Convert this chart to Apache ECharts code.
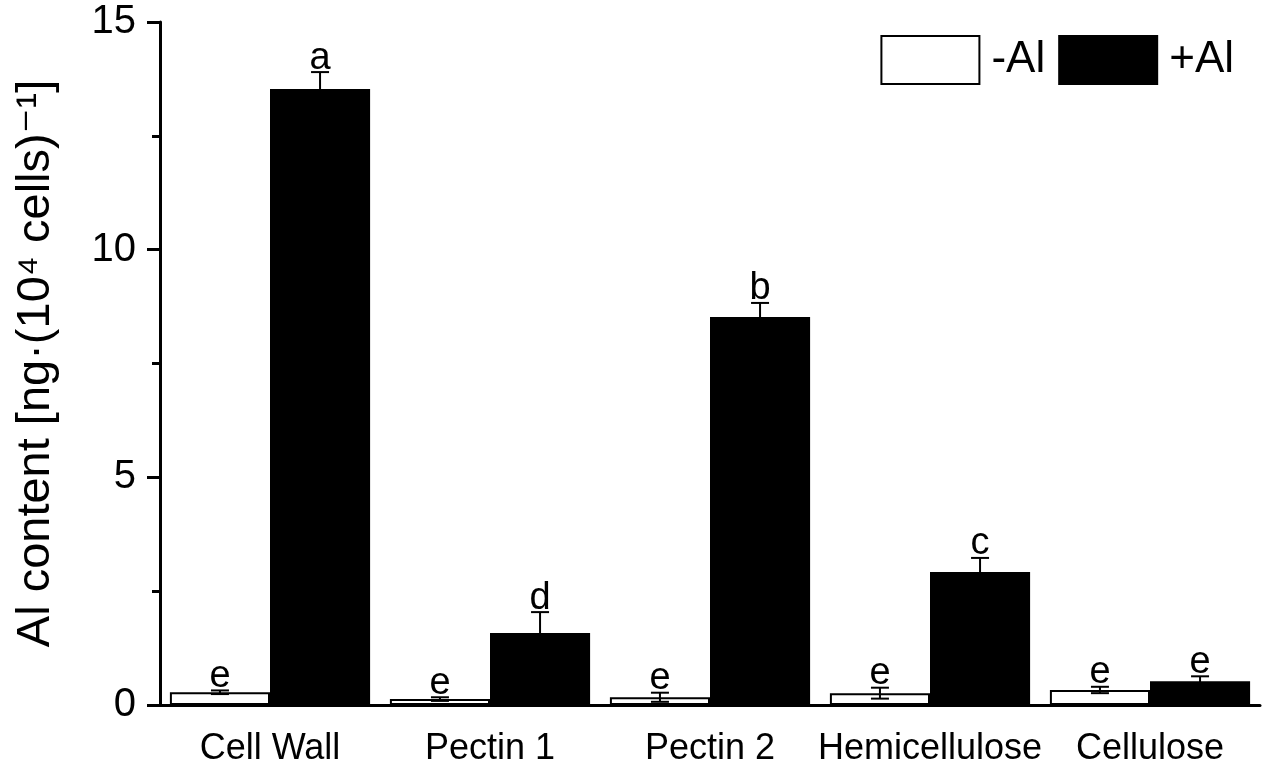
<!DOCTYPE html>
<html>
<head>
<meta charset="utf-8">
<script src="https://cdn.jsdelivr.net/npm/echarts@6/dist/echarts.min.js"></script>
<style>
  html, body { margin: 0; padding: 0; background: #fff; }
  #chart { width: 1267px; height: 768px; }
</style>
</head>
<body>
<div id="chart"></div>
<script>
// 数据
var categories = ['Cell Wall', 'Pectin 1', 'Pectin 2', 'Hemicellulose', 'Cellulose'];
var minusAl = [0.28, 0.13, 0.17, 0.26, 0.33];
var minusAlErr = [0.04, 0.04, 0.10, 0.12, 0.07];
var minusAlLetters = ['e', 'e', 'e', 'e', 'e'];
var plusAl = [13.53, 1.58, 8.52, 2.92, 0.52];
var plusAlErr = [0.37, 0.46, 0.31, 0.31, 0.11];
var plusAlLetters = ['a', 'd', 'b', 'c', 'e'];

var FONT = 'Liberation Sans, Arial, DejaVu Sans, sans-serif';
var CAT_GAP = 0.09; // 与 barCategoryGap 一致

// 误差线 + 字母
function errData(means, errs, side) {
  var out = [];
  for (var i = 0; i < means.length; i++) {
    out.push([i, means[i], errs[i], side]);
  }
  return out;
}

function makeRender(letters) {
  return function (params, api) {
    var idx = api.value(0);
    var mean = api.value(1);
    var err = api.value(2);
    var side = api.value(3);
    var band = api.size([1, 0])[0];
    var barW = band * (1 - CAT_GAP) / 2;
    var base = api.coord([idx, mean]);
    var x = base[0] + (side === 0 ? -barW / 2 : barW / 2);
    var yTop = api.coord([idx, mean + err])[1];
    var yBot = api.coord([idx, Math.max(mean - err, 0)])[1];
    var cap = 9;
    var ls = { stroke: '#000', lineWidth: 2 };
    return {
      type: 'group',
      children: [
        { type: 'line', shape: { x1: x, y1: yTop, x2: x, y2: yBot }, style: ls },
        { type: 'line', shape: { x1: x - cap, y1: yTop, x2: x + cap, y2: yTop }, style: ls },
        { type: 'line', shape: { x1: x - cap, y1: yBot, x2: x + cap, y2: yBot }, style: ls },
        {
          type: 'text',
          style: {
            text: letters[idx], x: x, y: yTop + 5,
            align: 'center', verticalAlign: 'bottom',
            fontSize: 38, fontFamily: FONT, fill: '#000'
          }
        }
      ]
    };
  };
}

var myChart = echarts.init(document.getElementById('chart'));

var option = {
  animation: false,
  backgroundColor: '#fff',
  grid: { left: 160, right: 7, top: 22, bottom: 63 },
  legend: {
    data: ['-Al', '+Al'],
    icon: 'rect',
    right: 33,
    top: 35,
    padding: 0,
    itemWidth: 98,
    itemHeight: 48,
    itemGap: 13,
    textStyle: { fontSize: 44, lineHeight: 48, fontFamily: FONT, color: '#000', padding: [0, 0, 0, 7] }
  },
  xAxis: {
    type: 'category',
    data: categories,
    axisLine: { lineStyle: { color: '#000', width: 3 } },
    axisTick: { alignWithLabel: true, length: 15, lineStyle: { color: '#000', width: 3 } },
    axisLabel: { interval: 0, color: '#000', fontSize: 36, fontFamily: FONT, margin: 26 }
  },
  yAxis: {
    type: 'value',
    min: 0,
    max: 15,
    interval: 5,
    name: 'Al content [ng·(10⁴ cells)⁻¹]',
    nameLocation: 'middle',
    nameGap: 100,
    nameTextStyle: { fontSize: 47, fontFamily: FONT, color: '#000' },
    axisLine: { show: true, lineStyle: { color: '#000', width: 3 } },
    axisTick: { show: true, length: 13, lineStyle: { color: '#000', width: 3 } },
    minorTick: { show: true, splitNumber: 2, length: 8, lineStyle: { color: '#000', width: 3 } },
    splitLine: { show: false },
    axisLabel: { color: '#000', fontSize: 40, fontFamily: FONT, margin: 24 }
  },
  series: [
    {
      name: '-Al',
      type: 'bar',
      data: minusAl,
      barGap: '0%',
      barCategoryGap: (CAT_GAP * 100) + '%',
      itemStyle: { color: '#fff', borderColor: '#000', borderWidth: 2 }
    },
    {
      name: '+Al',
      type: 'bar',
      data: plusAl,
      itemStyle: { color: '#000', borderColor: '#000', borderWidth: 2 }
    },
    {
      name: 'errMinus',
      type: 'custom',
      renderItem: makeRender(minusAlLetters),
      data: errData(minusAl, minusAlErr, 0),
      encode: { x: 0, y: 1 },
      z: 10,
      clip: false
    },
    {
      name: 'errPlus',
      type: 'custom',
      renderItem: makeRender(plusAlLetters),
      data: errData(plusAl, plusAlErr, 1),
      encode: { x: 0, y: 1 },
      z: 10,
      clip: false
    }
  ]
};

myChart.setOption(option);
</script>
</body>
</html>
